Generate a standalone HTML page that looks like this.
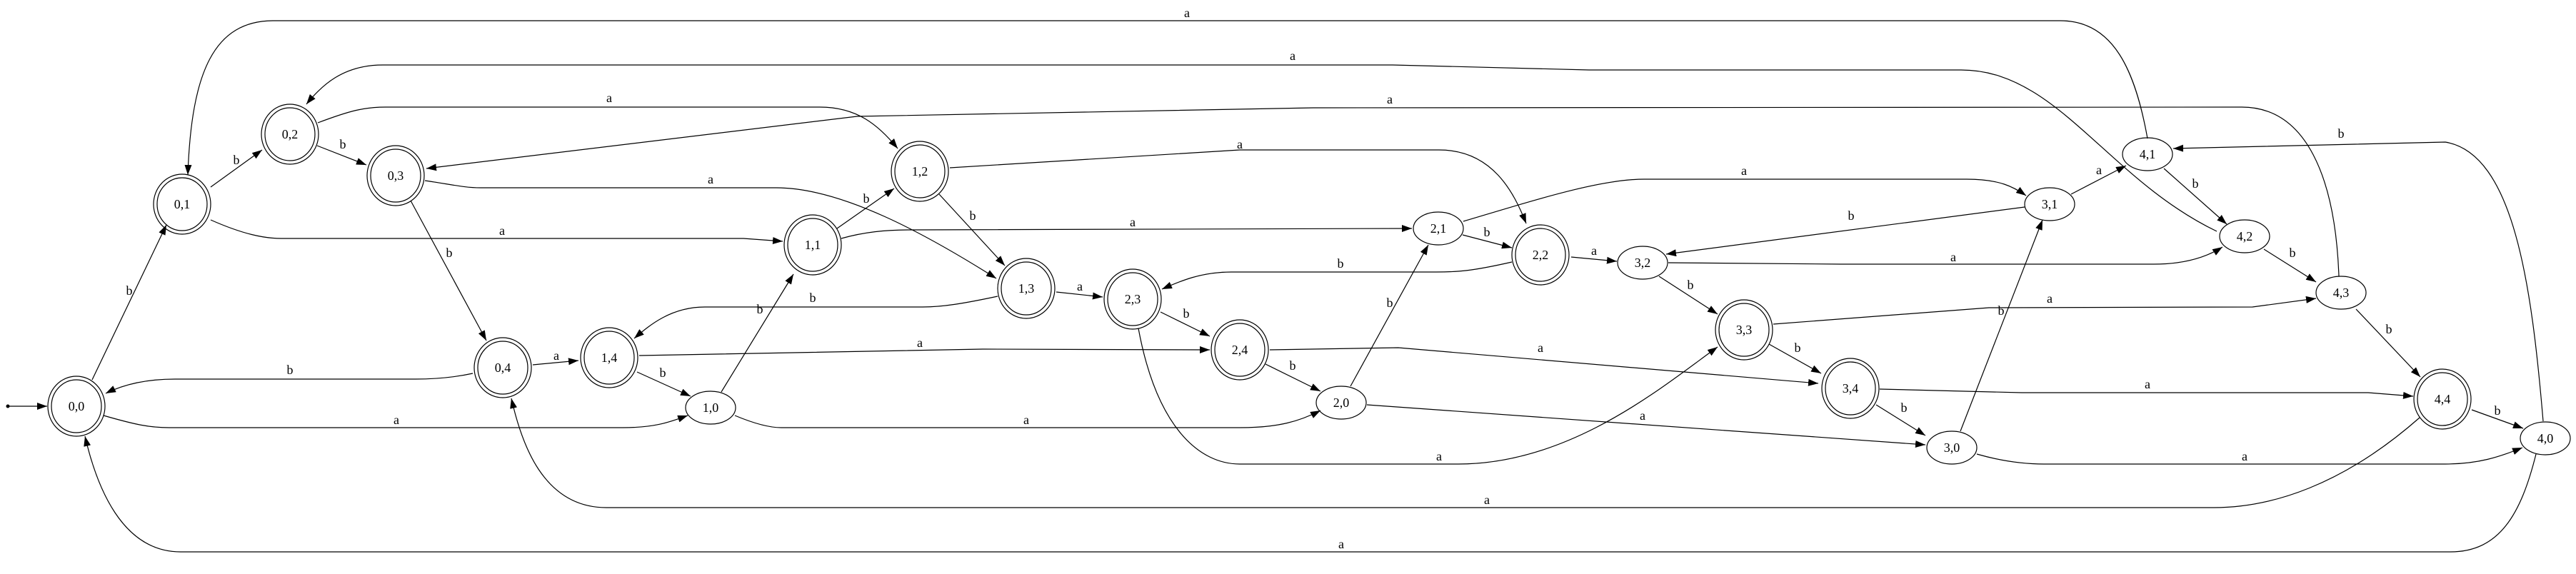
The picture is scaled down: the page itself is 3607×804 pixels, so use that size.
<!DOCTYPE html>
<html><head><meta charset="utf-8"><style>
html,body{margin:0;padding:0;background:#fff;}
svg{display:block;}
text{font-family:"Liberation Serif",serif;font-size:18px;fill:#000;text-anchor:middle;}
</style></head><body>
<svg width="3607" height="804" viewBox="0 0 3607 804" xmlns="http://www.w3.org/2000/svg">
<defs>
<marker id="ar" markerUnits="userSpaceOnUse" markerWidth="15" markerHeight="11" refX="14" refY="5" orient="auto">
<path d="M0,0 L14,5 L0,10 z" fill="#000"/>
</marker>
</defs>
<g fill="none" stroke="#000" stroke-width="1.2" marker-end="url(#ar)">
<path d="M3007,194 C2990,100 2960,29 2885,29 L383,29 C300,29 268,100 263,245"/>
<path d="M3104,324 C2950,250 2880,98 2746,98 L2225,98 L1950,91 L536,91 C480,91 450,120 429,146"/>
<path d="M3275,387 C3270,250 3230,150 3139,150 L1839,151 L1200,163 L597,236"/>
<path d="M445,172 C490,155 510,150 540,150 L1148,150 C1200,150 1230,175 1257,208"/>
<path d="M595,253 C630,258 650,263 673,263 L1087,263 C1180,263 1300,330 1395,390"/>
<path d="M295,308 C340,328 370,334 394,334 L1041,334 L1096,338"/>
<path d="M1172,320 L1252,264"/>
<path d="M1178,334 C1210,325 1240,322 1273,322 L1977,320"/>
<path d="M1315,272 L1407,372"/>
<path d="M1330,235 L1736,210 L2015,210 C2090,210 2120,270 2137,313"/>
<path d="M1397,415 C1350,425 1320,430 1292,430 L987,430 C940,430 910,455 888,474"/>
<path d="M1479,409 L1544,416"/>
<path d="M1625,437 L1694,471"/>
<path d="M1594,460 C1620,600 1680,650 1736,650 L2042,650 C2200,650 2330,540 2405,486"/>
<path d="M1772,510 L1849,548"/>
<path d="M1778,490 L1958,487 L2546,537"/>
<path d="M1891,541 L2000,343"/>
<path d="M1914,567 L2696,623"/>
<path d="M2048,329 L2117,347"/>
<path d="M2049,310 C2150,280 2240,251 2302,251 L2754,251 C2800,251 2820,262 2837,274"/>
<path d="M2117,367 C2060,380 2040,381 2011,381 L1724,381 C1680,381 1650,395 1627,405"/>
<path d="M2200,360 L2264,366"/>
<path d="M2323,387 L2405,440"/>
<path d="M2336,368 L2577,370 L3016,370 C3060,370 3090,360 3112,346"/>
<path d="M2835,290 L2333,356"/>
<path d="M2900,272 L2977,232"/>
<path d="M3030,236 L3118,314"/>
<path d="M3170,349 L3243,395"/>
<path d="M3299,433 L3389,528"/>
<path d="M2483,454 L2785,431 L3154,430 L3243,418"/>
<path d="M2477,482 L2550,523"/>
<path d="M2627,567 L2696,610"/>
<path d="M2632,545 L2831,550 L3316,550 L3379,555"/>
<path d="M2745,604 L2860,308"/>
<path d="M2768,636 C2810,648 2840,650 2862,650 L3424,650 C3470,650 3500,640 3532,627"/>
<path d="M3461,574 L3533,600"/>
<path d="M3388,585 C3280,680 3180,711 3100,711 L849,711 C760,711 730,620 716,558"/>
<path d="M3551,636 C3530,720 3500,773 3431,773 L253,773 C170,773 135,680 119,611"/>
<path d="M3561,590 C3545,400 3520,215 3424,199 L3043,208"/>
<path d="M129,532 L233,315"/>
<path d="M295,262 L367,210"/>
<path d="M444,204 L513,231"/>
<path d="M575,281 L681,477"/>
<path d="M662,523 C630,530 600,531 582,531 L245,531 C200,531 170,540 148,551"/>
<path d="M746,511 L810,505"/>
<path d="M892,521 L967,555"/>
<path d="M895,498 L1376,489 L1694,490"/>
<path d="M1010,549 L1111,384"/>
<path d="M1029,582 C1060,595 1080,599 1094,599 L1736,599 C1790,599 1820,590 1849,575"/>
<path d="M145,582 C190,595 210,599 237,599 L872,599 C920,599 940,590 963,582"/>
<path d="M13,569 L66,569"/>
</g>
<circle cx="11" cy="569" r="2.5" fill="#000"/>
<g fill="none" stroke="#000" stroke-width="1.2">
<!-- double nodes -->
<ellipse cx="107" cy="569" rx="40" ry="42"/><ellipse cx="107" cy="569" rx="35" ry="37"/>
<ellipse cx="255" cy="286" rx="40" ry="42"/><ellipse cx="255" cy="286" rx="35" ry="37"/>
<ellipse cx="406" cy="188" rx="40" ry="42"/><ellipse cx="406" cy="188" rx="35" ry="37"/>
<ellipse cx="554" cy="246" rx="40" ry="42"/><ellipse cx="554" cy="246" rx="35" ry="37"/>
<ellipse cx="704" cy="515" rx="40" ry="42"/><ellipse cx="704" cy="515" rx="35" ry="37"/>
<ellipse cx="853" cy="501" rx="40" ry="42"/><ellipse cx="853" cy="501" rx="35" ry="37"/>
<ellipse cx="1138" cy="343" rx="40" ry="42"/><ellipse cx="1138" cy="343" rx="35" ry="37"/>
<ellipse cx="1288" cy="240" rx="40" ry="42"/><ellipse cx="1288" cy="240" rx="35" ry="37"/>
<ellipse cx="1437" cy="404" rx="40" ry="42"/><ellipse cx="1437" cy="404" rx="35" ry="37"/>
<ellipse cx="1586" cy="419" rx="40" ry="42"/><ellipse cx="1586" cy="419" rx="35" ry="37"/>
<ellipse cx="1736" cy="490" rx="40" ry="42"/><ellipse cx="1736" cy="490" rx="35" ry="37"/>
<ellipse cx="2157" cy="357" rx="40" ry="42"/><ellipse cx="2157" cy="357" rx="35" ry="37"/>
<ellipse cx="2442" cy="462" rx="40" ry="42"/><ellipse cx="2442" cy="462" rx="35" ry="37"/>
<ellipse cx="2591" cy="544" rx="40" ry="42"/><ellipse cx="2591" cy="544" rx="35" ry="37"/>
<ellipse cx="3420" cy="559" rx="40" ry="42"/><ellipse cx="3420" cy="559" rx="35" ry="37"/>
<!-- single nodes -->
<ellipse cx="995" cy="571" rx="35" ry="23"/>
<ellipse cx="1878" cy="564" rx="35" ry="23"/>
<ellipse cx="2014" cy="320" rx="35" ry="23"/>
<ellipse cx="2300" cy="368" rx="35" ry="23"/>
<ellipse cx="2733" cy="627" rx="35" ry="23"/>
<ellipse cx="2870" cy="286" rx="35" ry="23"/>
<ellipse cx="3007" cy="216" rx="35" ry="23"/>
<ellipse cx="3143" cy="331" rx="35" ry="23"/>
<ellipse cx="3278" cy="410" rx="35" ry="23"/>
<ellipse cx="3564" cy="614" rx="35" ry="23"/>
</g>
<g>
<text x="107" y="575">0,0</text><text x="255" y="292">0,1</text><text x="406" y="194">0,2</text>
<text x="554" y="252">0,3</text><text x="704" y="521">0,4</text><text x="853" y="507">1,4</text>
<text x="1138" y="349">1,1</text><text x="1288" y="246">1,2</text><text x="1437" y="410">1,3</text>
<text x="1586" y="425">2,3</text><text x="1736" y="496">2,4</text><text x="2157" y="363">2,2</text>
<text x="2442" y="468">3,3</text><text x="2591" y="550">3,4</text><text x="3420" y="565">4,4</text>
<text x="995" y="577">1,0</text><text x="1878" y="570">2,0</text><text x="2014" y="326">2,1</text>
<text x="2300" y="374">3,2</text><text x="2733" y="633">3,0</text><text x="2870" y="292">3,1</text>
<text x="3007" y="222">4,1</text><text x="3143" y="337">4,2</text><text x="3278" y="416">4,3</text>
<text x="3564" y="620">4,0</text>
<!-- edge labels -->
<text x="1662" y="24">a</text><text x="1810" y="84">a</text><text x="1946" y="145">a</text>
<text x="853" y="143">a</text><text x="995" y="257">a</text><text x="703" y="329">a</text>
<text x="1213" y="284">b</text><text x="1586" y="317">a</text><text x="1362" y="308">b</text>
<text x="1736" y="208">a</text><text x="1138" y="423">b</text><text x="1512" y="407">a</text>
<text x="1661" y="445">b</text><text x="2015" y="645">a</text><text x="1810" y="518">b</text>
<text x="2157" y="493">a</text><text x="1946" y="430">b</text><text x="2300" y="588">a</text>
<text x="2082" y="331">b</text><text x="2442" y="245">a</text><text x="1877" y="375">b</text>
<text x="2232" y="357">a</text><text x="2367" y="405">b</text><text x="2735" y="366">a</text>
<text x="2592" y="308">b</text><text x="2939" y="244">a</text><text x="3074" y="263">b</text>
<text x="3210" y="360">b</text><text x="3345" y="467">b</text><text x="2870" y="424">a</text>
<text x="2517" y="493">b</text><text x="2666" y="577">b</text><text x="3007" y="544">a</text>
<text x="2802" y="441">b</text><text x="3143" y="645">a</text><text x="3497" y="581">b</text>
<text x="2082" y="706">a</text><text x="1878" y="768">a</text><text x="3278" y="193">b</text>
<text x="181" y="413">b</text><text x="331" y="230">b</text><text x="480" y="208">b</text>
<text x="629" y="360">b</text><text x="406" y="524">b</text><text x="779" y="504">a</text>
<text x="928" y="528">b</text><text x="1288" y="486">a</text><text x="1064" y="439">b</text>
<text x="1437" y="594">a</text><text x="555" y="594">a</text>
</g>
</svg>
</body></html>
